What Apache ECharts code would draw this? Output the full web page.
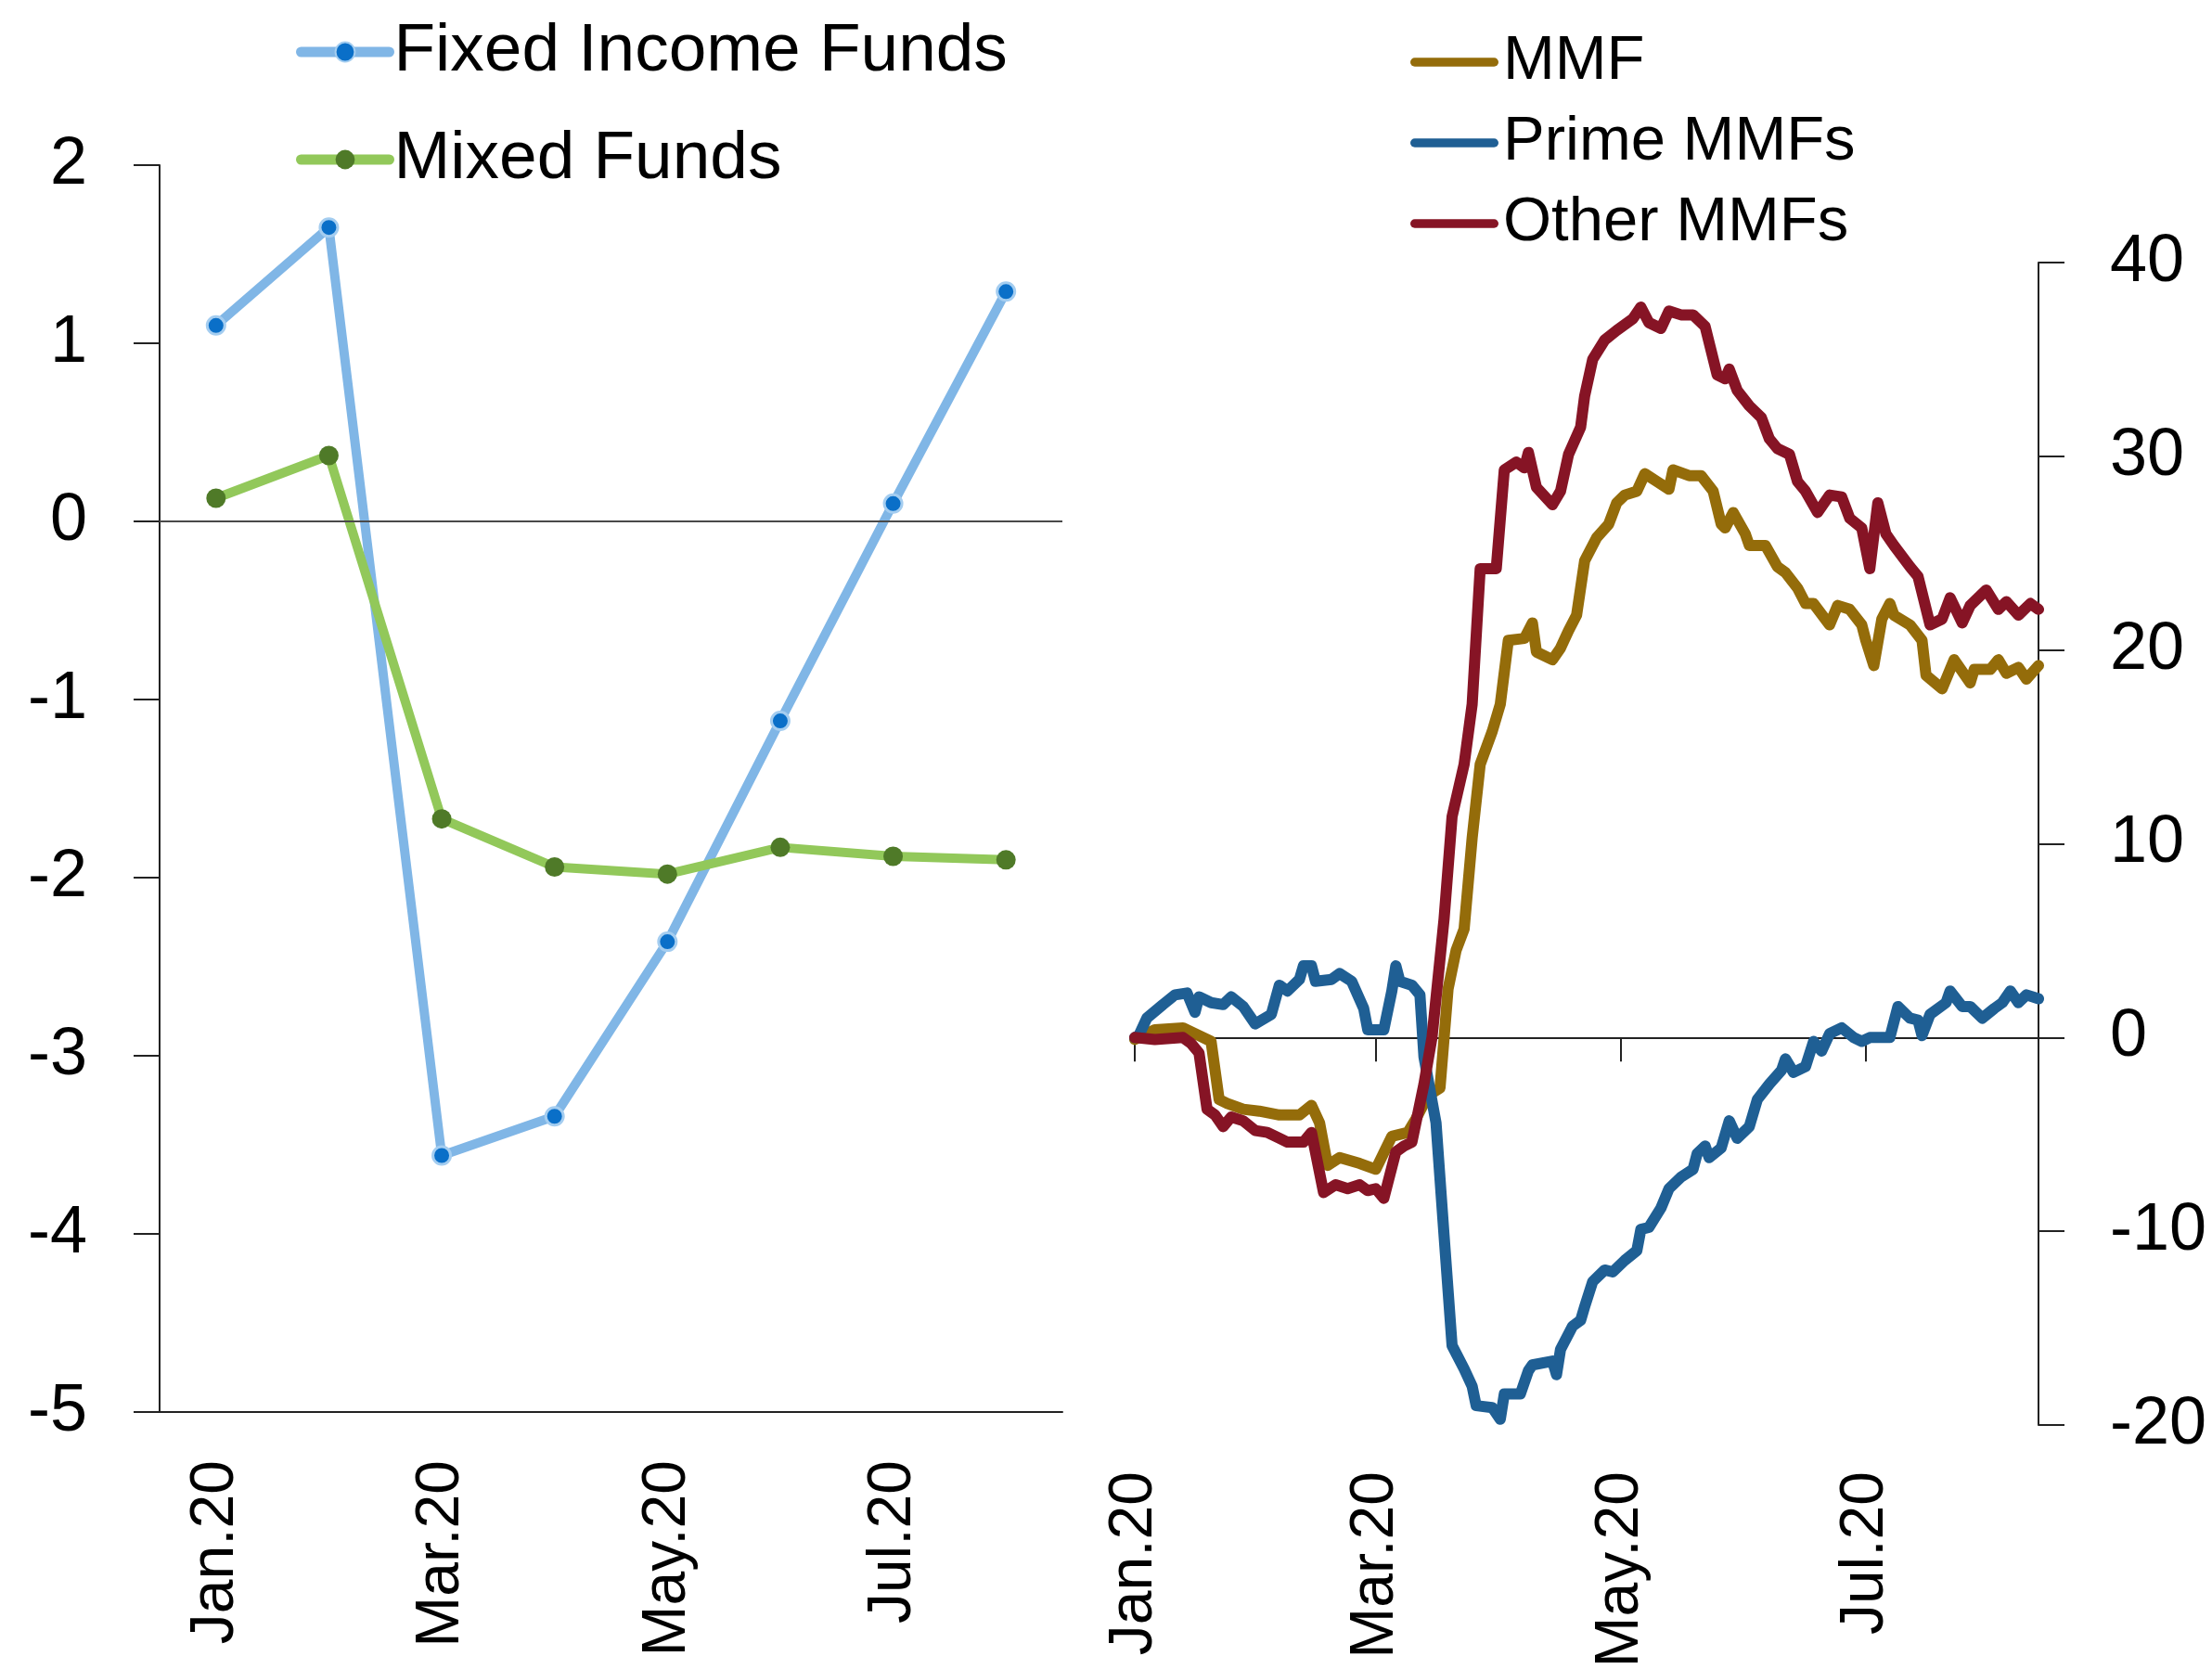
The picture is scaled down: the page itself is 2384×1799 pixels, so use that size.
<!DOCTYPE html>
<html>
<head>
<meta charset="utf-8">
<script src="https://cdn.jsdelivr.net/npm/echarts@6/dist/echarts.min.js"></script>
<style>
  html, body { margin: 0; padding: 0; background: #fff; }
  #chart { width: 2384px; height: 1799px; }
</style>
</head>
<body>
<div id="chart"></div>
<script>
// left panel: monthly flows
var months = ['Jan.20', 'Feb.20', 'Mar.20', 'Apr.20', 'May.20', 'Jun.20', 'Jul.20', 'Aug.20'];
var fixedIncome = [1.1, 1.65, -3.56, -3.34, -2.36, -1.12, 0.1, 1.29];
var mixedFunds = [0.13, 0.37, -1.67, -1.94, -1.98, -1.83, -1.88, -1.9];

// right panel: cumulative MMF flows
var mmfAll = [
  ['2020-01-01', -0.1], ['2020-01-06', 0.4], ['2020-01-13', 0.5], ['2020-01-16', 0.2],
  ['2020-01-20', -0.2], ['2020-01-22', -3.2], ['2020-01-24', -3.4], ['2020-01-28', -3.7],
  ['2020-02-01', -3.8], ['2020-02-06', -4.0], ['2020-02-11', -4.0], ['2020-02-14', -3.5],
  ['2020-02-16', -4.4], ['2020-02-18', -6.6], ['2020-02-21', -6.2], ['2020-02-26', -6.5],
  ['2020-03-01', -6.8], ['2020-03-05', -5.1], ['2020-03-09', -4.9], ['2020-03-11', -4.2],
  ['2020-03-14', -3.0], ['2020-03-17', -2.6], ['2020-03-19', 2.5], ['2020-03-21', 4.5],
  ['2020-03-23', 5.6], ['2020-03-25', 10.3], ['2020-03-27', 14.1], ['2020-03-30', 15.8],
  ['2020-04-01', 17.2], ['2020-04-03', 20.5], ['2020-04-07', 20.6], ['2020-04-09', 21.4],
  ['2020-04-10', 19.9], ['2020-04-14', 19.5], ['2020-04-16', 20.1], ['2020-04-18', 21.0],
  ['2020-04-20', 21.8], ['2020-04-22', 24.6], ['2020-04-25', 25.8], ['2020-04-28', 26.5],
  ['2020-04-30', 27.6], ['2020-05-02', 28.0], ['2020-05-05', 28.2], ['2020-05-07', 29.1],
  ['2020-05-10', 28.7], ['2020-05-13', 28.3], ['2020-05-14', 29.3], ['2020-05-18', 29.0],
  ['2020-05-21', 29.0], ['2020-05-24', 28.2], ['2020-05-26', 26.5], ['2020-05-27', 26.3],
  ['2020-05-29', 27.1], ['2020-06-01', 26.0], ['2020-06-02', 25.4], ['2020-06-06', 25.4],
  ['2020-06-09', 24.3], ['2020-06-11', 24.0], ['2020-06-14', 23.2], ['2020-06-16', 22.4],
  ['2020-06-18', 22.4], ['2020-06-22', 21.3], ['2020-06-24', 22.3], ['2020-06-27', 22.1],
  ['2020-06-30', 21.3], ['2020-07-01', 20.5], ['2020-07-03', 19.2], ['2020-07-05', 21.6],
  ['2020-07-07', 22.4], ['2020-07-08', 21.8], ['2020-07-12', 21.3], ['2020-07-15', 20.5],
  ['2020-07-16', 18.7], ['2020-07-20', 18.0], ['2020-07-23', 19.5], ['2020-07-27', 18.3],
  ['2020-07-28', 19.0], ['2020-08-01', 19.0], ['2020-08-03', 19.5], ['2020-08-05', 18.8],
  ['2020-08-08', 19.1], ['2020-08-10', 18.5], ['2020-08-13', 19.2]
];
var primeMmf = [
  ['2020-01-01', 0.0], ['2020-01-02', 0.1], ['2020-01-04', 1.0], ['2020-01-08', 1.7],
  ['2020-01-11', 2.2], ['2020-01-14', 2.3], ['2020-01-16', 1.3], ['2020-01-17', 2.1],
  ['2020-01-20', 1.8], ['2020-01-23', 1.7], ['2020-01-25', 2.1], ['2020-01-28', 1.6],
  ['2020-01-31', 0.7], ['2020-02-04', 1.2], ['2020-02-06', 2.7], ['2020-02-08', 2.4],
  ['2020-02-11', 3.0], ['2020-02-12', 3.7], ['2020-02-14', 3.7], ['2020-02-15', 2.9],
  ['2020-02-19', 3.0], ['2020-02-21', 3.3], ['2020-02-24', 2.9], ['2020-02-27', 1.5],
  ['2020-02-28', 0.4], ['2020-03-03', 0.4], ['2020-03-05', 2.4], ['2020-03-06', 3.7],
  ['2020-03-07', 2.9], ['2020-03-10', 2.7], ['2020-03-12', 2.2], ['2020-03-13', -1.0],
  ['2020-03-16', -4.4], ['2020-03-18', -10.2], ['2020-03-20', -15.9], ['2020-03-23', -17.1],
  ['2020-03-25', -18.0], ['2020-03-26', -19.0], ['2020-03-30', -19.1], ['2020-04-01', -19.7],
  ['2020-04-02', -18.4], ['2020-04-06', -18.4], ['2020-04-08', -17.2], ['2020-04-09', -16.9],
  ['2020-04-14', -16.7], ['2020-04-15', -17.4], ['2020-04-16', -16.1], ['2020-04-19', -14.9],
  ['2020-04-21', -14.6], ['2020-04-22', -13.9], ['2020-04-24', -12.6], ['2020-04-27', -12.0],
  ['2020-04-29', -12.1], ['2020-05-02', -11.5], ['2020-05-05', -11.0], ['2020-05-06', -9.9],
  ['2020-05-08', -9.8], ['2020-05-11', -8.8], ['2020-05-13', -7.8], ['2020-05-16', -7.2],
  ['2020-05-19', -6.8], ['2020-05-20', -6.0], ['2020-05-22', -5.6], ['2020-05-23', -6.2],
  ['2020-05-26', -5.7], ['2020-05-28', -4.3], ['2020-05-30', -5.2], ['2020-06-02', -4.6],
  ['2020-06-04', -3.2], ['2020-06-07', -2.4], ['2020-06-10', -1.7], ['2020-06-11', -1.1],
  ['2020-06-13', -1.8], ['2020-06-16', -1.5], ['2020-06-18', -0.2], ['2020-06-20', -0.7],
  ['2020-06-22', 0.2], ['2020-06-25', 0.5], ['2020-06-28', 0.0], ['2020-06-30', -0.2],
  ['2020-07-02', 0.0], ['2020-07-07', 0.0], ['2020-07-09', 1.6], ['2020-07-12', 1.0],
  ['2020-07-14', 0.9], ['2020-07-15', 0.1], ['2020-07-17', 1.2], ['2020-07-21', 1.8],
  ['2020-07-22', 2.4], ['2020-07-25', 1.6], ['2020-07-27', 1.6], ['2020-07-30', 1.0],
  ['2020-08-02', 1.5], ['2020-08-04', 1.8], ['2020-08-06', 2.4], ['2020-08-08', 1.8],
  ['2020-08-10', 2.2], ['2020-08-13', 2.0]
];
var otherMmf = [
  ['2020-01-01', 0.0], ['2020-01-06', -0.1], ['2020-01-13', 0.0], ['2020-01-15', -0.3],
  ['2020-01-17', -0.8], ['2020-01-19', -3.7], ['2020-01-21', -4.0], ['2020-01-23', -4.6],
  ['2020-01-25', -4.1], ['2020-01-28', -4.3], ['2020-01-31', -4.8], ['2020-02-03', -4.9],
  ['2020-02-06', -5.2], ['2020-02-08', -5.4], ['2020-02-12', -5.4], ['2020-02-14', -4.9],
  ['2020-02-17', -8.0], ['2020-02-20', -7.6], ['2020-02-23', -7.8], ['2020-02-26', -7.6],
  ['2020-02-28', -7.9], ['2020-03-01', -7.8], ['2020-03-03', -8.3], ['2020-03-06', -5.9],
  ['2020-03-08', -5.6], ['2020-03-10', -5.4], ['2020-03-13', -2.4], ['2020-03-15', 0.0],
  ['2020-03-18', 6.1], ['2020-03-20', 11.4], ['2020-03-23', 14.1], ['2020-03-25', 17.2],
  ['2020-03-27', 24.2], ['2020-03-31', 24.2], ['2020-04-02', 29.3], ['2020-04-05', 29.7],
  ['2020-04-07', 29.4], ['2020-04-08', 30.2], ['2020-04-10', 28.4], ['2020-04-14', 27.5],
  ['2020-04-16', 28.2], ['2020-04-18', 30.1], ['2020-04-21', 31.5], ['2020-04-22', 33.1],
  ['2020-04-24', 35.0], ['2020-04-27', 36.0], ['2020-04-30', 36.5], ['2020-05-04', 37.1],
  ['2020-05-06', 37.7], ['2020-05-08', 36.9], ['2020-05-11', 36.6], ['2020-05-13', 37.5],
  ['2020-05-16', 37.3], ['2020-05-19', 37.3], ['2020-05-22', 36.7], ['2020-05-25', 34.2],
  ['2020-05-27', 34.0], ['2020-05-28', 34.5], ['2020-05-30', 33.4], ['2020-06-02', 32.6],
  ['2020-06-05', 32.0], ['2020-06-07', 30.9], ['2020-06-09', 30.4], ['2020-06-12', 30.1],
  ['2020-06-14', 28.7], ['2020-06-16', 28.2], ['2020-06-19', 27.1], ['2020-06-22', 28.0],
  ['2020-06-25', 27.9], ['2020-06-27', 26.8], ['2020-06-30', 26.3], ['2020-07-02', 24.2],
  ['2020-07-04', 27.6], ['2020-07-06', 26.0], ['2020-07-08', 25.4], ['2020-07-12', 24.3],
  ['2020-07-14', 23.8], ['2020-07-17', 21.3], ['2020-07-20', 21.6], ['2020-07-22', 22.7],
  ['2020-07-25', 21.4], ['2020-07-27', 22.3], ['2020-07-31', 23.1], ['2020-08-03', 22.1],
  ['2020-08-05', 22.5], ['2020-08-08', 21.8], ['2020-08-11', 22.4], ['2020-08-13', 22.1]
];
var monthTicks = ['2020-01-01', '2020-03-01', '2020-05-01', '2020-07-01'];
var rightStart = '2020-01-01';
var rightEnd = '2020-08-13';

var chart = echarts.init(document.getElementById('chart'));

var axisColor = '#222';
var textFont = 'Liberation Sans';
var capsule = 'path://M5,0 L95,0 A5,5 0 0 1 95,10 L5,10 A5,5 0 0 1 5,0 Z';

function ts(s) {
  return echarts.time.parse(s).getTime();
}
function toPoints(arr) {
  return arr.map(function (p) { return [ts(p[0]), p[1]]; });
}
var tickValues = monthTicks.map(ts);

var option = {
  animation: false,
  backgroundColor: '#fff',
  legend: [{
    data: ['Fixed Income Funds', 'Mixed Funds'],
    orient: 'vertical',
    left: 319,
    top: 16,
    padding: 0,
    itemWidth: 95,
    itemHeight: 26,
    itemGap: 36,
    lineStyle: { width: 11, cap: 'round' },
    textStyle: { fontFamily: textFont, fontSize: 73, lineHeight: 80, color: '#000' }
  }, {
    data: ['MMF', 'Prime MMFs', 'Other MMFs'],
    orient: 'vertical',
    left: 1520,
    top: 32,
    padding: 0,
    icon: capsule,
    itemWidth: 95,
    itemHeight: 12,
    itemGap: 17,
    textStyle: { fontFamily: textFont, fontSize: 67, lineHeight: 70, color: '#000' }
  }],
  grid: [
    { left: 172, top: 178, width: 973, height: 1344, outerBoundsMode: 'none', containLabel: false },
    { left: 1223, top: 283, width: 974, height: 1253, outerBoundsMode: 'none', containLabel: false }
  ],
  xAxis: [{
    type: 'category',
    gridIndex: 0,
    position: 'bottom',
    data: months,
    boundaryGap: true,
    axisLine: { onZero: false, lineStyle: { color: axisColor, width: 2 } },
    axisTick: { interval: 1, length: 26, lineStyle: { color: axisColor, width: 2 } },
    axisLabel: {
      interval: 1, rotate: 90, margin: 52,
      fontFamily: textFont, fontSize: 66, color: '#000'
    }
  }, {
    // zero line with month ticks
    type: 'value',
    gridIndex: 1,
    position: 'bottom',
    min: ts(rightStart),
    max: ts(rightEnd),
    axisLine: { onZero: true, lineStyle: { color: axisColor, width: 2 } },
    axisTick: { show: true, customValues: tickValues, length: 26, lineStyle: { color: axisColor, width: 2 } },
    axisLabel: { show: false },
    splitLine: { show: false }
  }, {
    // labels at the bottom of the right panel
    type: 'value',
    gridIndex: 1,
    position: 'bottom',
    min: ts(rightStart),
    max: ts(rightEnd),
    axisLine: { show: false, onZero: false },
    axisTick: { show: false },
    axisLabel: {
      customValues: tickValues, rotate: 90, margin: 50,
      fontFamily: textFont, fontSize: 66, color: '#000',
      formatter: function (v) {
        return months[new Date(v).getMonth()];
      }
    },
    splitLine: { show: false }
  }],
  yAxis: [{
    type: 'value',
    gridIndex: 0,
    min: -5,
    max: 2,
    interval: 1,
    splitLine: { show: false },
    axisLine: { show: true, lineStyle: { color: axisColor, width: 2 } },
    axisTick: { show: true, length: 28, lineStyle: { color: axisColor, width: 2 } },
    axisLabel: { margin: 78, fontFamily: textFont, fontSize: 72, color: '#000' }
  }, {
    type: 'value',
    gridIndex: 1,
    position: 'right',
    min: -20,
    max: 40,
    interval: 10,
    splitLine: { show: false },
    axisLine: { show: true, lineStyle: { color: axisColor, width: 2 } },
    axisTick: { show: true, length: 28, lineStyle: { color: axisColor, width: 2 } },
    axisLabel: { margin: 77, fontFamily: textFont, fontSize: 72, color: '#000' }
  }],
  series: [{
    name: 'Fixed Income Funds',
    type: 'line',
    xAxisIndex: 0,
    yAxisIndex: 0,
    data: fixedIncome,
    symbol: 'circle',
    symbolSize: 19,
    lineStyle: { color: '#80b6e6', width: 10, cap: 'round' },
    itemStyle: { color: '#0a6fc8', borderColor: '#a4cdf0', borderWidth: 3 },
    markLine: {
      silent: true,
      symbol: ['none', 'none'],
      label: { show: false },
      lineStyle: { color: '#4a4a4a', width: 2, type: 'solid' },
      data: [{ yAxis: 0 }]
    }
  }, {
    name: 'Mixed Funds',
    type: 'line',
    xAxisIndex: 0,
    yAxisIndex: 0,
    data: mixedFunds,
    symbol: 'circle',
    symbolSize: 21,
    lineStyle: { color: '#92c85a', width: 10, cap: 'round' },
    itemStyle: { color: '#4f7a28' }
  }, {
    name: 'MMF',
    type: 'line',
    xAxisIndex: 1,
    yAxisIndex: 1,
    data: toPoints(mmfAll),
    symbol: 'none',
    lineStyle: { color: '#946c0a', width: 12, cap: 'round', join: 'round' },
    itemStyle: { color: '#946c0a' }
  }, {
    name: 'Prime MMFs',
    type: 'line',
    xAxisIndex: 1,
    yAxisIndex: 1,
    data: toPoints(primeMmf),
    symbol: 'none',
    lineStyle: { color: '#1f5f94', width: 12, cap: 'round', join: 'round' },
    itemStyle: { color: '#1f5f94' }
  }, {
    name: 'Other MMFs',
    type: 'line',
    xAxisIndex: 1,
    yAxisIndex: 1,
    data: toPoints(otherMmf),
    symbol: 'none',
    lineStyle: { color: '#861425', width: 12, cap: 'round', join: 'round' },
    itemStyle: { color: '#861425' }
  }]
};

chart.setOption(option);
</script>
</body>
</html>
